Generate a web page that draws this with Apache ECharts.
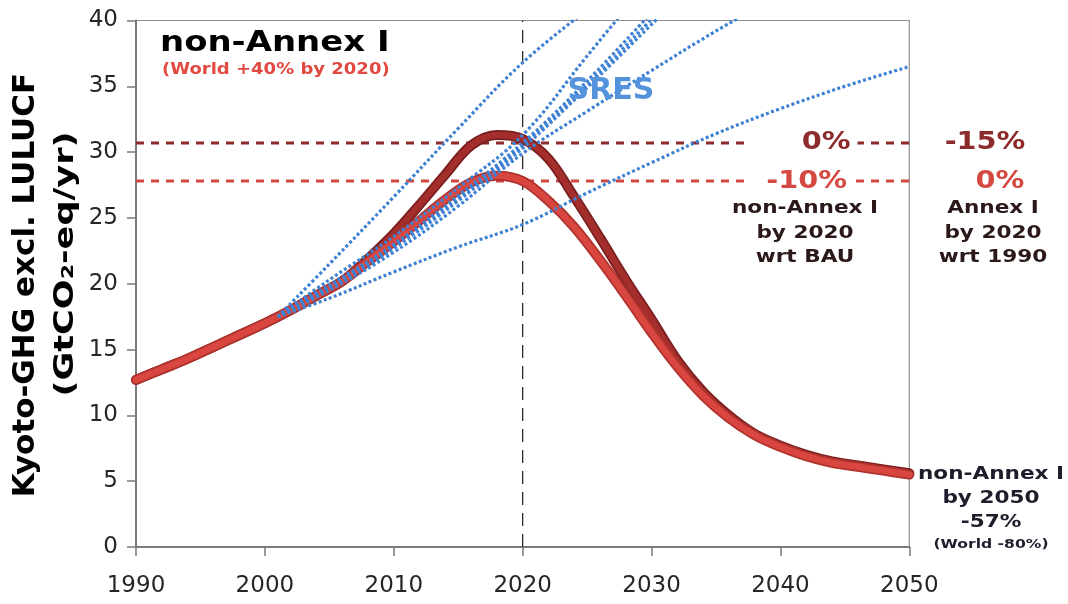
<!DOCTYPE html>
<html>
<head>
<meta charset="utf-8">
<script src="https://cdn.jsdelivr.net/npm/echarts@6.0.0/dist/echarts.min.js"></script>
<style>
  html, body { margin: 0; padding: 0; background: #ffffff; }
  #chart { width: 1068px; height: 604px; }
</style>
</head>
<body>
<div id="chart"></div>
<script>
// Emission pathways for non-Annex I countries (GtCO2-eq/yr), two-year steps
const years = [1990, 1992, 1994, 1996, 1998, 2000, 2002, 2004, 2006, 2008, 2010,
               2012, 2014, 2016, 2018, 2020, 2022, 2024, 2026, 2028, 2030,
               2032, 2034, 2036, 2038, 2040, 2042, 2044, 2046, 2048, 2050];

// Pathway reaching -10% below BAU by 2020
const pathMinus10 = [12.7, 13.5, 14.3, 15.2, 16.1, 17.0, 18.0, 19.1, 20.2, 21.7, 23.2,
                     24.8, 26.4, 27.7, 28.2, 27.8, 26.3, 24.3, 21.8, 19.1, 16.3,
                     13.7, 11.5, 9.8, 8.5, 7.6, 6.9, 6.4, 6.1, 5.8, 5.5];

// Pathway at BAU level (0%) by 2020
const pathZero = [12.7, 13.5, 14.3, 15.2, 16.1, 17.0, 18.0, 19.1, 20.2, 21.9, 23.8,
                  26.0, 28.3, 30.5, 31.3, 31.0, 29.5, 26.6, 23.5, 20.3, 17.3,
                  14.2, 11.8, 10.0, 8.6, 7.7, 7.0, 6.5, 6.2, 5.9, 5.6];

// SRES baseline scenarios
const sresYears = [2001, 2005, 2010, 2015, 2020, 2025, 2030, 2035, 2040, 2045, 2050];
const sresA  = [17.5, 21.5, 26.6, 31.8, 36.8, 40.8, null, null, null, null, null];
const sresB1 = [17.5, 20.3, 23.6, 27.3, 31.3, 37.3, 43.3, null, null, null, null];
const sresB2 = [17.5, 19.9, 23.0, 26.7, 30.7, 35.4, 40.6, null, null, null, null];
const sresB3 = [17.5, 19.8, 22.85, 26.5, 30.5, 35.1, 40.1, null, null, null, null];
const sresB4 = [17.5, 19.7, 22.7, 26.3, 30.3, 34.9, 39.7, 44.5, null, null, null];
const sresC  = [17.5, 19.5, 22.4, 25.9, 29.9, 33.1, 36.2, 39.2, 42.0, null, null];
const sresD  = [17.5, 18.9, 20.9, 22.8, 24.5, 26.9, 29.2, 31.4, 33.3, 35.0, 36.5];

// 2020 reference levels
const levelBau2020 = 30.7;     // 0% wrt BAU
const levelMinus10 = 27.8;     // -10% wrt BAU
const markYear = 2020;

const xTicks = [1990, 2000, 2010, 2020, 2030, 2040, 2050];
const yTicks = [0, 5, 10, 15, 20, 25, 30, 35, 40];

function pairs(xs, ys) {
  return xs.map((x, i) => [x, ys[i]]).filter(p => p[1] != null);
}

const FONT = '"DejaVu Sans", Verdana, sans-serif';

function plainLine(data, color, width, type, z) {
  return {
    type: 'line', data, symbol: 'none', silent: true, clip: true, z,
    lineStyle: { color, width, type, cap: 'butt' }
  };
}

function curve(values, outline, fill, z) {
  return [
    { type: 'line', data: pairs(years, values), symbol: 'none', smooth: 0.35, silent: true, clip: true, z,
      lineStyle: { color: outline, width: 10, cap: 'round', join: 'round' } },
    { type: 'line', data: pairs(years, values), symbol: 'none', smooth: 0.35, silent: true, clip: true, z: z + 0.5,
      lineStyle: { color: fill, width: 6.5, cap: 'round', join: 'round' } }
  ];
}

function sres(values) {
  return {
    type: 'line', data: pairs(sresYears, values), symbol: 'none', smooth: 0.4, silent: true, clip: true, z: 8,
    lineStyle: { color: '#3f82d4', width: 3.2, type: [3, 2.4], cap: 'butt' }
  };
}

const chart = echarts.init(document.getElementById('chart'), null, { renderer: 'canvas' });

chart.setOption({
  animation: false,
  backgroundColor: '#ffffff',
  grid: {
    left: 136, right: 158.7, top: 20.5, bottom: 57,
    containLabel: false, outerBoundsMode: 'none',
    show: true, borderColor: '#8f8f8f', borderWidth: 1.2, backgroundColor: 'transparent'
  },
  xAxis: {
    type: 'value', min: xTicks[0], max: xTicks[xTicks.length - 1], interval: 10,
    axisLine: { show: true, onZero: false, lineStyle: { color: '#7a7a7a', width: 2 } },
    axisTick: { show: true, inside: false, length: 9, lineStyle: { color: '#7a7a7a', width: 1.5 } },
    axisLabel: { show: true, margin: 28, fontSize: 23, fontFamily: FONT, color: '#262626',
                 formatter: v => String(v) },
    splitLine: { show: false }
  },
  yAxis: {
    type: 'value', min: yTicks[0], max: yTicks[yTicks.length - 1], interval: 5,
    axisLine: { show: true, onZero: false, lineStyle: { color: '#7a7a7a', width: 2 } },
    axisTick: { show: true, inside: false, length: 9, lineStyle: { color: '#7a7a7a', width: 1.5 } },
    axisLabel: { show: true, margin: 18, fontSize: 23, fontFamily: FONT, color: '#262626',
                 formatter: v => String(v) },
    splitLine: { show: false }
  },
  series: [
    plainLine([[xTicks[0], levelBau2020], [xTicks[xTicks.length - 1], levelBau2020]], '#8e2a2a', 3, [8, 7], 1),
    plainLine([[xTicks[0], levelMinus10], [xTicks[xTicks.length - 1], levelMinus10]], '#d2473f', 3, [8, 7], 1),
    plainLine([[markYear, yTicks[0]], [markYear, yTicks[yTicks.length - 1]]], '#2b2b2b', 1.3, [13, 8], 1),
    ...curve(pathZero, '#7a1f1f', '#a32e2c', 3),
    ...curve(pathMinus10, '#b0332e', '#d9463f', 5),
    sres(sresA), sres(sresB1), sres(sresB2), sres(sresB3), sres(sresB4), sres(sresC), sres(sresD)
  ]
});

// Annotations
function txt(text, x, y, font, fill, extra) {
  const e = extra || {};
  return {
    type: 'text', x, y, z: 100, zlevel: 0, silent: true,
    scaleX: e.sx || 1, rotation: e.rot || 0,
    style: {
      text, font, fill,
      align: e.align || 'center', verticalAlign: 'middle',
      backgroundColor: e.bg, padding: e.pad
    }
  };
}

const yBau = chart.convertToPixel({ yAxisIndex: 0 }, levelBau2020);
const yM10 = chart.convertToPixel({ yAxisIndex: 0 }, levelMinus10);
const darkRed = '#8c2b2b';
const lightRed = '#d44a43';
const ink = '#2b1919';
const navy = '#1d1d2b';

chart.setOption({
  graphic: [
    txt('non-Annex I', 160, 43, 'bold 29px ' + FONT, '#000000', { align: 'left', sx: 1.17 }),
    txt('(World +40% by 2020)', 162, 70, 'bold 15px ' + FONT, '#e04a40', { align: 'left', sx: 1.2 }),
    txt('SRES', 611, 91, 'bold 30px ' + FONT, '#5592dc'),

    txt('0%', 750, yBau, 'bold 25px ' + FONT, darkRed, { align: 'left', sx: 1.15, bg: '#ffffff', pad: [1, 6, 1, 45] }),
    txt('-10%', 749, yM10, 'bold 25px ' + FONT, lightRed, { align: 'left', sx: 1.15, bg: '#ffffff', pad: [1, 6, 1, 15] }),
    txt('-15%', 985, yBau, 'bold 25px ' + FONT, darkRed, { sx: 1.15 }),
    txt('0%', 1000, yM10, 'bold 25px ' + FONT, lightRed, { sx: 1.15 }),

    txt('non-Annex I', 805, 208, 'bold 18px ' + FONT, ink, { sx: 1.2 }),
    txt('by 2020', 805, 233, 'bold 18px ' + FONT, ink, { sx: 1.2 }),
    txt('wrt BAU', 805, 257, 'bold 18px ' + FONT, ink, { sx: 1.2 }),
    txt('Annex I', 993, 208, 'bold 18px ' + FONT, ink, { sx: 1.2 }),
    txt('by 2020', 993, 233, 'bold 18px ' + FONT, ink, { sx: 1.2 }),
    txt('wrt 1990', 993, 257, 'bold 18px ' + FONT, ink, { sx: 1.2 }),

    txt('non-Annex I', 991, 474, 'bold 18px ' + FONT, navy, { sx: 1.2 }),
    txt('by 2050', 991, 498, 'bold 18px ' + FONT, navy, { sx: 1.2 }),
    txt('-57%', 991, 522, 'bold 18px ' + FONT, navy, { sx: 1.2 }),
    txt('(World -80%)', 991, 545, 'bold 13px ' + FONT, navy, { sx: 1.2 }),

    txt('Kyoto-GHG excl. LULUCF', 26, 285, 'bold 31px ' + FONT, '#000000', { rot: Math.PI / 2 }),
    txt('(GtCO\u2082-eq/yr)', 66, 264, 'bold 27px ' + FONT, '#000000', { rot: Math.PI / 2, sx: 1.3 })
  ]
});
</script>
</body>
</html>
